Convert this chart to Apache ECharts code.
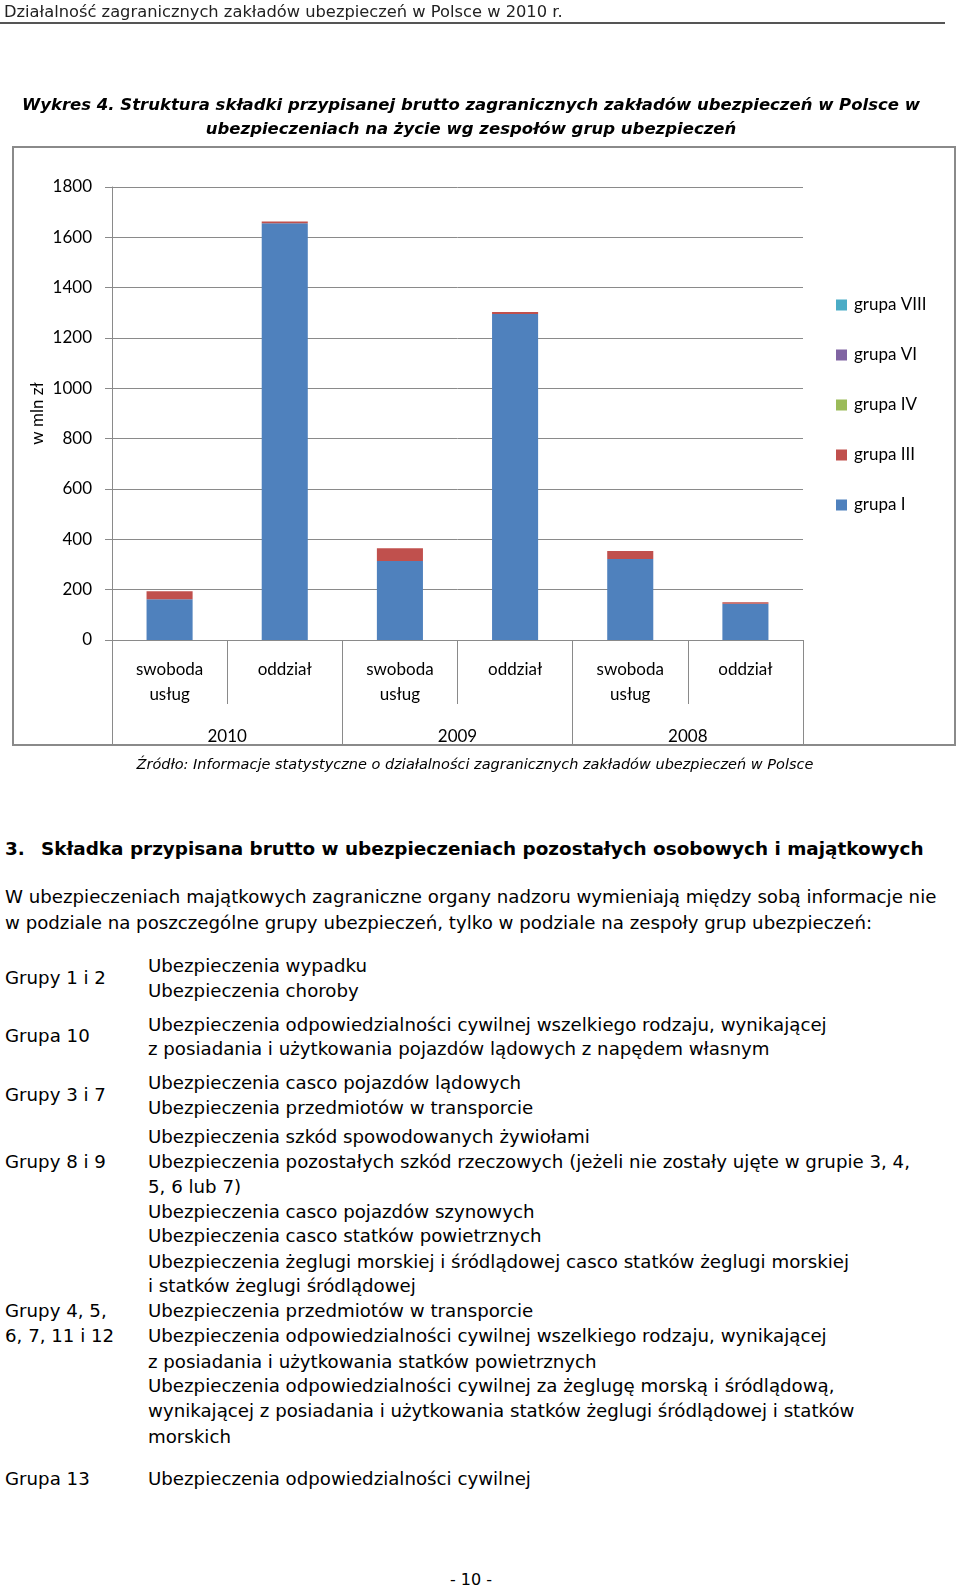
<!DOCTYPE html>
<html>
<head>
<meta charset="utf-8">
<script src="https://cdn.jsdelivr.net/npm/echarts@6/dist/echarts.min.js"></script>
<style>
  html, body { margin: 0; padding: 0; background: #fff; }
  body { width: 960px; height: 1587px; position: relative; overflow: hidden; }
  #chart { position: absolute; left: 0; top: 0; width: 960px; height: 800px; }
  .t { position: absolute; white-space: nowrap; font-family: "DejaVu Sans", sans-serif; color: #000; line-height: 20px; }
  .body { font-size: 18.2px; }
</style>
</head>
<body>
<div id="chart"></div>
<div id="text"></div>
<script>
// ---- chart data ----
const subCategories = ['swoboda\nusług', 'oddział', 'swoboda\nusług', 'oddział', 'swoboda\nusług', 'oddział'];
const years = ['2010', '2009', '2008'];
const grupaI    = [162, 1656, 314, 1295, 322, 144];
const grupaIII  = [32, 7, 51, 8, 32, 6];
const grupaIV   = [0, 0, 0, 0, 0, 0];
const grupaVI   = [0, 0, 0, 0, 0, 0];
const grupaVIII = [0, 0, 0, 0, 0, 0];
const legendOrder = ['grupa VIII', 'grupa VI', 'grupa IV', 'grupa III', 'grupa I'];

// ---- page text ----
const headerText = 'Działalność zagranicznych zakładów ubezpieczeń w Polsce w 2010 r.';
const titleLines = [
  'Wykres 4. Struktura składki przypisanej brutto zagranicznych zakładów ubezpieczeń w Polsce w',
  'ubezpieczeniach na życie wg zespołów grup ubezpieczeń'
];
const sourceText = 'Źródło: Informacje statystyczne o działalności zagranicznych zakładów ubezpieczeń w Polsce';
const sectionNo = '3.';
const sectionTitle = 'Składka przypisana brutto w ubezpieczeniach pozostałych osobowych i majątkowych';
const paragraph = [
  'W ubezpieczeniach majątkowych zagraniczne organy nadzoru wymieniają między sobą informacje nie',
  'w podziale na poszczególne grupy ubezpieczeń, tylko w podziale na zespoły grup ubezpieczeń:'
];
const groupLabels = ['Grupy 1 i 2', 'Grupa 10', 'Grupy 3 i 7', 'Grupy 8 i 9', 'Grupy 4, 5,', '6, 7, 11 i 12', 'Grupa 13'];
const groupDesc = [
  'Ubezpieczenia wypadku',
  'Ubezpieczenia choroby',
  'Ubezpieczenia odpowiedzialności cywilnej wszelkiego rodzaju, wynikającej',
  'z posiadania i użytkowania pojazdów lądowych z napędem własnym',
  'Ubezpieczenia casco pojazdów lądowych',
  'Ubezpieczenia przedmiotów w transporcie',
  'Ubezpieczenia szkód spowodowanych żywiołami',
  'Ubezpieczenia pozostałych szkód rzeczowych (jeżeli nie zostały ujęte w grupie 3, 4,',
  '5, 6 lub 7)',
  'Ubezpieczenia casco pojazdów szynowych',
  'Ubezpieczenia casco statków powietrznych',
  'Ubezpieczenia żeglugi morskiej i śródlądowej casco statków żeglugi morskiej',
  'i statków żeglugi śródlądowej',
  'Ubezpieczenia przedmiotów w transporcie',
  'Ubezpieczenia odpowiedzialności cywilnej wszelkiego rodzaju, wynikającej',
  'z posiadania i użytkowania statków powietrznych',
  'Ubezpieczenia odpowiedzialności cywilnej za żeglugę morską i śródlądową,',
  'wynikającej z posiadania i użytkowania statków żeglugi śródlądowej i statków',
  'morskich',
  'Ubezpieczenia odpowiedzialności cywilnej'
];
const footerText = '- 10 -';

// ---- layout (positions kept separate from data) ----
const groupLabelY = [978, 1036, 1094.5, 1162, 1311, 1336, 1479];
const groupDescY = [966, 991, 1025, 1049, 1083, 1107.5, 1137, 1162, 1186.5, 1212, 1236, 1261.5, 1285.5, 1311, 1336, 1361.5, 1386, 1411, 1436.5, 1479];

const host = document.getElementById('text');
function addText(str, x, yc, extra, cls) {
  const d = document.createElement('div');
  d.className = 't ' + (cls || '');
  d.textContent = str;
  d.style.left = x + 'px';
  d.style.top = (yc - 10) + 'px';
  if (extra) Object.assign(d.style, extra);
  host.appendChild(d);
  return d;
}
function addCentered(str, cx, yc, extra) {
  const d = addText(str, 0, yc, extra);
  d.style.left = '0px'; d.style.width = (2 * cx) + 'px'; d.style.textAlign = 'center';
  return d;
}

addText(headerText, 4, 12, { fontSize: '16.3px', color: '#222' });
const rule = document.createElement('div');
Object.assign(rule.style, { position: 'absolute', left: '0px', top: '22px', width: '945px', height: '2px', background: '#555' });
host.appendChild(rule);

addCentered(titleLines[0], 471, 105, { fontSize: '16.5px', fontWeight: 'bold', fontStyle: 'italic' });
addCentered(titleLines[1], 471, 128.5, { fontSize: '16.5px', fontWeight: 'bold', fontStyle: 'italic' });
addCentered(sourceText, 475, 764, { fontSize: '14.5px', fontStyle: 'italic' });

addText(sectionNo, 5, 849, { fontSize: '18.4px', fontWeight: 'bold' });
addText(sectionTitle, 41, 849, { fontSize: '18.4px', fontWeight: 'bold' });
addText(paragraph[0], 5, 897, null, 'body');
addText(paragraph[1], 5, 922.6, null, 'body');
groupLabels.forEach((s, i) => addText(s, 5, groupLabelY[i], null, 'body'));
groupDesc.forEach((s, i) => addText(s, 148, groupDescY[i], null, 'body'));
addCentered(footerText, 471, 1580, { fontSize: '16px' });

// ---- chart ----
const gray = '#8a8a8a';
const chart = echarts.init(document.getElementById('chart'), null, { renderer: 'canvas' });
const font = 'Lato';
function barSeries(name, data, color) {
  return { name, type: 'bar', stack: 'total', data, barWidth: '40%', xAxisIndex: 0,
           itemStyle: { color }, emphasis: { disabled: true } };
}
chart.setOption({
  animation: false,
  textStyle: { fontFamily: font },
  graphic: [{
    type: 'rect', shape: { x: 13, y: 147, width: 942, height: 598 },
    style: { fill: 'none', stroke: gray, lineWidth: 2 }, z: -1
  }],
  grid: { left: 112, top: 187, right: 157, bottom: 160, containLabel: false },
  legend: {
    orient: 'vertical', left: 836, top: 295, padding: 0,
    data: legendOrder, icon: 'rect', itemWidth: 11, itemHeight: 11, itemGap: 30,
    textStyle: { fontFamily: font, fontSize: 17, color: '#000', lineHeight: 20, padding: [0, 0, 0, 2] },
    selectedMode: false
  },
  xAxis: [{
    type: 'category', data: subCategories, position: 'bottom',
    axisLine: { show: true, lineStyle: { color: gray, width: 1 } },
    axisTick: { show: true, length: 64, interval: 0, alignWithLabel: false, lineStyle: { color: gray, width: 1 } },
    axisLabel: { interval: 0, margin: 17, fontSize: 17, lineHeight: 25, color: '#000', fontFamily: font }
  }, {
    type: 'category', data: years, position: 'bottom', gridIndex: 0,
    axisLine: { show: false },
    axisTick: { show: true, length: 105, interval: 0, alignWithLabel: false, lineStyle: { color: gray, width: 1 } },
    axisLabel: { interval: 0, margin: 88, fontSize: 17, color: '#000', fontFamily: font }
  }],
  yAxis: {
    type: 'value', min: 0, max: 1800, interval: 200,
    name: 'w mln zł', nameLocation: 'middle', nameGap: 66, nameRotate: 90, nameMoveOverlap: false,
    nameTextStyle: { fontSize: 17, color: '#000', fontFamily: font },
    axisLine: { show: true, lineStyle: { color: gray, width: 1 } },
    axisTick: { show: true, length: 7, lineStyle: { color: gray, width: 1 } },
    axisLabel: { margin: 20, fontSize: 17, color: '#000', fontFamily: font, formatter: v => String(v) },
    splitLine: { show: true, lineStyle: { color: gray, width: 1 } }
  },
  series: [
    barSeries('grupa I', grupaI, '#4F81BD'),
    barSeries('grupa III', grupaIII, '#C0504D'),
    barSeries('grupa IV', grupaIV, '#9BBB59'),
    barSeries('grupa VI', grupaVI, '#8064A2'),
    barSeries('grupa VIII', grupaVIII, '#4BACC6')
  ]
});
</script>
</body>
</html>
